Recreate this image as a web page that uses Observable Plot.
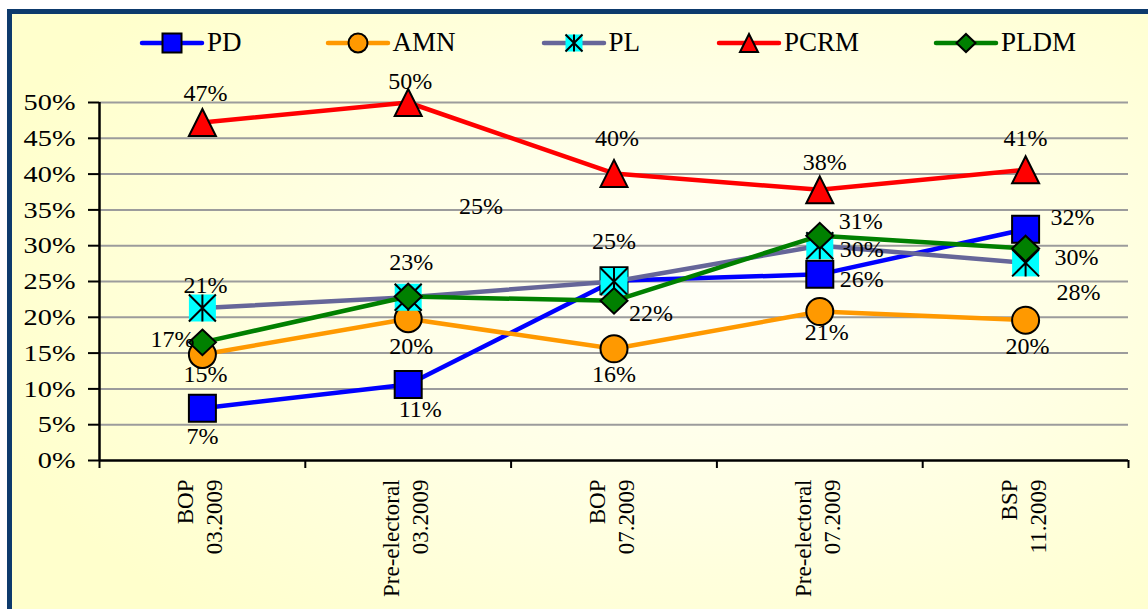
<!DOCTYPE html>
<html>
<head>
<meta charset="utf-8">
<script src="https://cdn.jsdelivr.net/npm/d3@7"></script>
<script src="https://cdn.jsdelivr.net/npm/@observablehq/plot@0.6"></script>
<style>
html,body{margin:0;padding:0;background:#fff;overflow:hidden;}
#wrap{position:relative;width:1148px;height:609px;overflow:hidden;}
#frame{position:absolute;left:7px;top:9px;width:1160px;height:620px;
  border-left:5px solid #0d3a6c;border-top:5px solid #0d3a6c;
  background:radial-gradient(ellipse 65% 70% at 60% 45%, #fffff7 0%, #ffffe6 45%, #ffffcc 100%);}
#chart{position:absolute;left:0;top:0;}
#legend{position:absolute;left:139px;top:27px;height:31px;display:flex;align-items:center;
  font-family:"Liberation Serif","Times New Roman",serif;font-size:27px;line-height:31px;color:#000;}
#legend .item{display:flex;align-items:center;}
#legend .item span{margin-left:2px;}
#legend svg{display:block;}
</style>
</head>
<body>
<div id="wrap">
  <div id="frame"></div>
  <div id="chart"></div>
  <div id="legend"></div>
</div>
<script>
// ---------- data ----------
const categories = ["BOP\n03.2009", "Pre-electoral\n03.2009", "BOP\n07.2009", "Pre-electoral\n07.2009", "BSP\n11.2009"];
const seriesNames = ["PD", "AMN", "PL", "PCRM", "PLDM"];
const PD   = [7.3, 10.6, 25.1, 26.0, 32.3];
const AMN  = [14.8, 19.8, 15.6, 20.8, 19.6];
const PL   = [21.3, 22.8, 25.0, 30.0, 27.6];
const PCRM = [47.2, 50.0, 40.1, 37.8, 40.6];
const PLDM = [16.5, 22.9, 22.3, 31.4, 29.6];
const yTicks = [0, 5, 10, 15, 20, 25, 30, 35, 40, 45, 50];

// ---------- label placement (pixel offsets of each data label from its point; null = hidden under another label) ----------
const labelOffsets = {
  PD:   [[0, 28], [12, 25], [-133, -74], [42, 5], [47, -12]],
  AMN:  [[3, 20], [3, 28], [0, 26], [7, 21], [2, 26]],
  PL:   [[3, -23], [3, -35], [0, -40], [42, 4], [53, 29]],
  PCRM: [[3, -29], [2, -21], [3, -35], [5, -28], [0, -31]],
  PLDM: [[-30, -3], null, [37, 12], [41, -14], [51, 9]]
};
// legend spacing after each entry (px)
const legendGaps = [83, 85, 76, 74, 0];

// ---------- symbols ----------
const rad = size => Math.sqrt(size / Math.PI);
const symSquare = {draw(c, size) {const r = rad(size); c.moveTo(-r, -r); c.lineTo(r, -r); c.lineTo(r, r); c.lineTo(-r, r); c.closePath();}};
const symTriangle = {draw(c, size) {const r = rad(size); c.moveTo(0, -r); c.lineTo(r, r); c.lineTo(-r, r); c.closePath();}};
const symDiamond = {draw(c, size) {const r = rad(size); c.moveTo(0, -r * 0.95); c.lineTo(r, 0); c.lineTo(0, r * 0.95); c.lineTo(-r, 0); c.closePath();}};
const symStar = {draw(c, size) {const r = rad(size); c.moveTo(-r, -r); c.lineTo(r, r); c.moveTo(r, -r); c.lineTo(-r, r); c.moveTo(0, -r); c.lineTo(0, r);}};

const seriesValues = [PD, AMN, PL, PCRM, PLDM];
const seriesStyle = {
  PD:   {line: "#0000ff", markers: [{symbol: symSquare, fill: "#0000ff", stroke: "#000"}]},
  AMN:  {line: "#ff9900", markers: [{symbol: "circle", fill: "#ff9900", stroke: "#000"}]},
  PL:   {line: "#666699", markers: [{symbol: symSquare, fill: "#00ffff", stroke: "none"}, {symbol: symStar, fill: "none", stroke: "#000"}]},
  PCRM: {line: "#ff0000", markers: [{symbol: symTriangle, fill: "#ff0000", stroke: "#000"}]},
  PLDM: {line: "#008000", markers: [{symbol: symDiamond, fill: "#008000", stroke: "#000"}]}
};

// ---------- marks ----------
const marks = [
  Plot.ruleY(yTicks.filter(d => d > 0), {stroke: "#9c9c9c", strokeWidth: 2}),
  Plot.axisY({ticks: yTicks, tickSize: 11, tickPadding: 13, tickFormat: d => d + "%", strokeWidth: 2, color: "black", fontSize: 24, label: null}),
  Plot.axisX({ticks: d3.range(-0.5, categories.length, 1), tickSize: 8, tickFormat: () => "", strokeWidth: 2, color: "black", label: null}),
  Plot.text(categories, {x: (d, i) => i, text: d => d, frameAnchor: "bottom", dy: 19, dx: 20, rotate: -90, textAnchor: "end",
    lineHeight: 1.26, fontSize: 23, fill: "black", ariaLabel: "xlabel"}),
  Plot.ruleX([-0.5], {stroke: "black", strokeWidth: 2.5}),
  Plot.ruleY([0], {stroke: "black", strokeWidth: 2.5})
];

const labelMarks = [];
seriesNames.forEach((name, s) => {
  const rows = categories.map((c, i) => ({i, v: seriesValues[s][i]}));
  const st = seriesStyle[name];
  marks.push(Plot.line(rows, {x: "i", y: "v", stroke: st.line, strokeWidth: 4.5}));
  st.markers.forEach(m => {
    marks.push(Plot.dot(rows, {x: "i", y: "v", symbol: m.symbol, r: 13.5, fill: m.fill, stroke: m.stroke, strokeWidth: 2}));
  });
  rows.forEach((row, i) => {
    const off = labelOffsets[name][i];
    if (!off) return;
    const [dx, dy] = off;
    labelMarks.push(Plot.text([row], {x: "i", y: "v", text: d => Math.round(d.v) + "%", dx, dy,
      fontSize: 24, fill: "black", ariaLabel: "dlabel"}));
  });
});

const svg = Plot.plot({
  width: 1148, height: 609,
  marginLeft: 99, marginRight: 20, marginTop: 102, marginBottom: 149,
  style: {background: "transparent", fontFamily: "'Liberation Serif','Times New Roman',serif", fontSize: "24px", color: "black", overflow: "visible"},
  x: {type: "linear", domain: [-0.5, categories.length - 0.5], label: null},
  y: {domain: [0, 50], label: null},
  marks: [...marks, ...labelMarks]
});
document.getElementById("chart").append(svg);

// widen the serif numerals like the original rendering
svg.querySelectorAll('g[aria-label="dlabel"] text, g[aria-label="y-axis tick label"] text').forEach(t => {
  t.setAttribute("transform", (t.getAttribute("transform") || "") + " scale(1.18,1)");
});
// category labels: lines centred within a top-aligned block
svg.querySelectorAll('g[aria-label="xlabel"] text').forEach(t => {
  const L = t.getBBox().width;
  t.setAttribute("text-anchor", "middle");
  const spans = t.querySelectorAll("tspan");
  if (spans.length) spans.forEach(ts => ts.setAttribute("x", -L / 2));
  else t.setAttribute("x", -L / 2);
});

// ---------- legend ----------
const legend = d3.select("#legend");
const legendR = {PD: 9.5, AMN: 9.5, PL: 8.5, PCRM: 9, PLDM: 9.5};
seriesNames.forEach((name, s) => {
  const st = seriesStyle[name];
  const item = legend.append("div").attr("class", "item").style("margin-right", legendGaps[s] + "px");
  const sv = item.append("svg").attr("width", 66).attr("height", 26);
  sv.append("line").attr("x1", 3).attr("x2", 63).attr("y1", 13).attr("y2", 13)
    .attr("stroke", st.line).attr("stroke-width", 4.5).attr("stroke-linecap", "round");
  const r = legendR[name];
  st.markers.forEach(m => {
    if (m.symbol === "circle") {
      sv.append("circle").attr("cx", 33).attr("cy", 13).attr("r", r)
        .attr("fill", m.fill).attr("stroke", m.stroke).attr("stroke-width", 2);
    } else {
      sv.append("path").attr("transform", "translate(33,13)")
        .attr("d", d3.symbol(m.symbol, Math.PI * r * r)())
        .attr("fill", m.fill).attr("stroke", m.stroke).attr("stroke-width", 2);
    }
  });
  item.append("span").text(name);
});
</script>
</body>
</html>
